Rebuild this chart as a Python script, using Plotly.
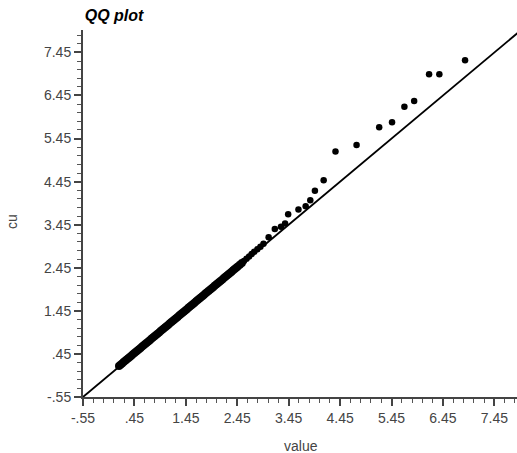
import plotly.graph_objects as go

# Data
# dense part of the sample (lies on the reference line)
band_value = [0.15, 0.18, 0.21, 0.24, 0.27, 0.30, 0.33, 0.36, 0.39, 0.42,
              0.45, 0.48, 0.51, 0.54, 0.57, 0.60, 0.63, 0.66, 0.69, 0.72,
              0.75, 0.78, 0.81, 0.84, 0.87, 0.90, 0.93, 0.96, 0.99, 1.02,
              1.05, 1.08, 1.11, 1.14, 1.17, 1.20, 1.23, 1.26, 1.29, 1.32,
              1.35, 1.38, 1.41, 1.44, 1.47, 1.50, 1.53, 1.56, 1.59, 1.62,
              1.65, 1.68, 1.71, 1.74, 1.77, 1.80, 1.83, 1.86, 1.89, 1.92,
              1.95, 1.98, 2.01, 2.04, 2.07, 2.10, 2.13, 2.16, 2.19, 2.22,
              2.25, 2.28, 2.31, 2.34, 2.37, 2.40, 2.43, 2.46, 2.50, 2.54]
band_cu = [0.17, 0.20, 0.23, 0.26, 0.29, 0.32, 0.35, 0.38, 0.41, 0.44,
           0.47, 0.50, 0.53, 0.56, 0.59, 0.62, 0.65, 0.68, 0.71, 0.74,
           0.77, 0.80, 0.83, 0.86, 0.89, 0.92, 0.95, 0.98, 1.01, 1.04,
           1.07, 1.10, 1.13, 1.16, 1.19, 1.22, 1.25, 1.28, 1.31, 1.34,
           1.37, 1.40, 1.43, 1.46, 1.49, 1.52, 1.55, 1.58, 1.61, 1.64,
           1.67, 1.70, 1.73, 1.76, 1.79, 1.82, 1.85, 1.88, 1.91, 1.94,
           1.97, 2.00, 2.03, 2.06, 2.09, 2.12, 2.15, 2.18, 2.21, 2.24,
           2.27, 2.30, 2.33, 2.36, 2.39, 2.42, 2.45, 2.48, 2.52, 2.56]
# upper tail (scattered points)
tail_value = [2.58, 2.63, 2.68, 2.73, 2.78, 2.84, 2.90, 2.96, 3.06, 3.18,
              3.30, 3.38, 3.44, 3.64, 3.78, 3.87, 3.96, 4.13, 4.36, 4.77,
              5.21, 5.46, 5.70, 5.89, 6.18, 6.38, 6.88]
tail_cu = [2.61, 2.66, 2.71, 2.77, 2.82, 2.88, 2.94, 3.01, 3.16, 3.35,
           3.40, 3.48, 3.69, 3.80, 3.88, 4.02, 4.24, 4.48, 5.15, 5.30,
           5.71, 5.83, 6.19, 6.32, 6.94, 6.94, 7.27]

ref_line = [-0.55, 8.0]
tick_vals = [-0.55, 0.45, 1.45, 2.45, 3.45, 4.45, 5.45, 6.45, 7.45]
tick_text = ["-.55", ".45", "1.45", "2.45", "3.45", "4.45", "5.45", "6.45", "7.45"]

FONT = "Liberation Sans, Arial, sans-serif"

fig = go.Figure()
fig.add_trace(go.Scatter(x=ref_line, y=ref_line, mode="lines",
                         line=dict(color="black", width=1.8),
                         showlegend=False, hoverinfo="skip"))
fig.add_trace(go.Scatter(x=band_value, y=band_cu, mode="markers",
                         marker=dict(color="black", size=8, line=dict(width=0)),
                         showlegend=False))
fig.add_trace(go.Scatter(x=tail_value, y=tail_cu, mode="markers",
                         marker=dict(color="black", size=6.5, line=dict(width=0)),
                         showlegend=False))

axis_common = dict(
    tickmode="array", tickvals=tick_vals, ticktext=tick_text,
    ticks="outside", ticklen=7, tickwidth=1.5, tickcolor="#444",
    showline=True, linecolor="#444", linewidth=2,
    showgrid=False, zeroline=False,
    tickfont=dict(family=FONT, size=14, color="#444"),
    minor=dict(ticks="outside", tickmode="linear", tick0=-0.55, dtick=0.2,
               ticklen=4, tickwidth=1.2, tickcolor="#555", showgrid=False),
)

fig.update_xaxes(range=[-0.55, 7.89], **axis_common)
fig.update_yaxes(range=[-0.55, 7.97], **axis_common)

fig.update_layout(
    width=517, height=453,
    margin=dict(l=83, r=0, t=30, b=56),
    plot_bgcolor="white", paper_bgcolor="white",
    title=dict(text="<b><i>QQ plot</i></b>", xref="paper", x=0.004, xanchor="left",
               yref="container", y=1 - 15 / 453, yanchor="middle",
               font=dict(family=FONT, size=16, color="black")),
    annotations=[
        dict(text="cu", xref="paper", yref="paper", x=(12 - 83) / 434, y=(397 - 222) / 367,
             showarrow=False, textangle=-90, xanchor="center", yanchor="middle",
             font=dict(family=FONT, size=14, color="#444")),
        dict(text="value", xref="paper", yref="paper", x=(301 - 83) / 434, y=(397 - 446) / 367,
             showarrow=False, xanchor="center", yanchor="middle",
             font=dict(family=FONT, size=14, color="#444")),
    ],
)

fig.write_html("out.html")
